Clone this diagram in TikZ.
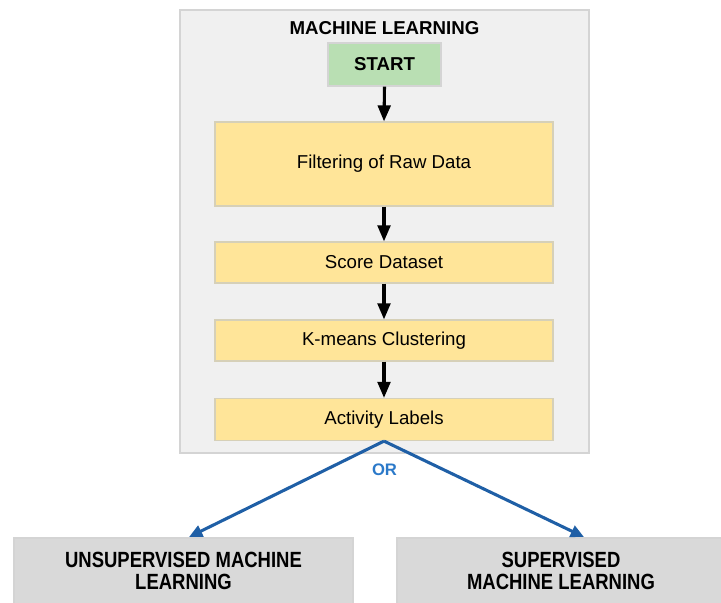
\documentclass[tikz,border=0pt]{standalone}
\usepackage{fontspec}
\setmainfont{Liberation Sans}
\newfontfamily\narrowfont[FakeStretch=0.84]{Liberation Sans}
\usetikzlibrary{arrows.meta}
\definecolor{contfill}{HTML}{F0F0F0}
\definecolor{contdraw}{HTML}{D4D4D4}
\definecolor{startfill}{HTML}{B9DFB3}
\definecolor{stepfill}{HTML}{FFE599}
\definecolor{stepdraw}{HTML}{D6D0B8}
\definecolor{endfill}{HTML}{D9D9D9}
\definecolor{blueline}{HTML}{1F5FA6}
\definecolor{ortext}{HTML}{2B79C9}
\tikzset{
  box/.style={rectangle, inner sep=0pt, line width=0.9pt},
  stepbox/.style={box, fill=stepfill, draw=stepdraw, minimum width=338*0.75pt, font=\fontsize{14}{16}\selectfont},
  endbox/.style={box, fill=endfill, draw=contdraw, minimum height=66*0.75pt, align=center, font=\narrowfont\bfseries\fontsize{16.5}{16}\selectfont},
  flow/.style={line width=2.3pt, -{Triangle[length=12pt,width=9.5pt]}},
  bflow/.style={line width=2.3pt, blueline, -{Triangle[length=10pt,width=9pt]}},
}
\begin{document}
\begin{tikzpicture}[x=0.75pt,y=-0.75pt]
\useasboundingbox (0,0) rectangle (721,603);
\node[box, fill=contfill, draw=contdraw, minimum width=409*0.75pt, minimum height=443*0.75pt] (cont) at (384.5,231.5) {};
\node[font=\bfseries\fontsize{14}{16}\selectfont] (title) at (384.5,28) {MACHINE LEARNING};
\node[box, fill=startfill, draw=contdraw, minimum width=113*0.75pt, minimum height=43*0.75pt, font=\bfseries\fontsize{14}{16}\selectfont] (start) at (384.5,64.5) {START};
\node[stepbox, minimum height=84*0.75pt] (filter) at (384,164) {Filtering of Raw Data};
\node[stepbox, minimum height=41*0.75pt] (score) at (384,262.5) {Score Dataset};
\node[stepbox, minimum height=41*0.75pt] (kmeans) at (384,340.5) {K-means Clustering};
\node[stepbox, minimum height=42*0.75pt] (act) at (384,419.5) {Activity Labels};
\node[endbox, minimum width=339*0.75pt] (unsup) at (183.5,571) {UNSUPERVISED MACHINE\\LEARNING};
\node[endbox, minimum width=328*0.75pt] (sup) at (561,571) {SUPERVISED\\MACHINE LEARNING};
\node[font=\bfseries\fontsize{12.5}{14}\selectfont, text=ortext] (or) at (384.5,470) {OR};
\draw[flow] (start.south) -- (filter.north);
\draw[flow] (filter.south) -- (score.north);
\draw[flow] (score.south) -- (kmeans.north);
\draw[flow] (kmeans.south) -- (act.north);
\coordinate (la) at (189,537);
\coordinate (ra) at (584,537);
\draw[bflow] (act.south) -- (la);
\draw[bflow] (act.south) -- (ra);
\end{tikzpicture}
\end{document}
